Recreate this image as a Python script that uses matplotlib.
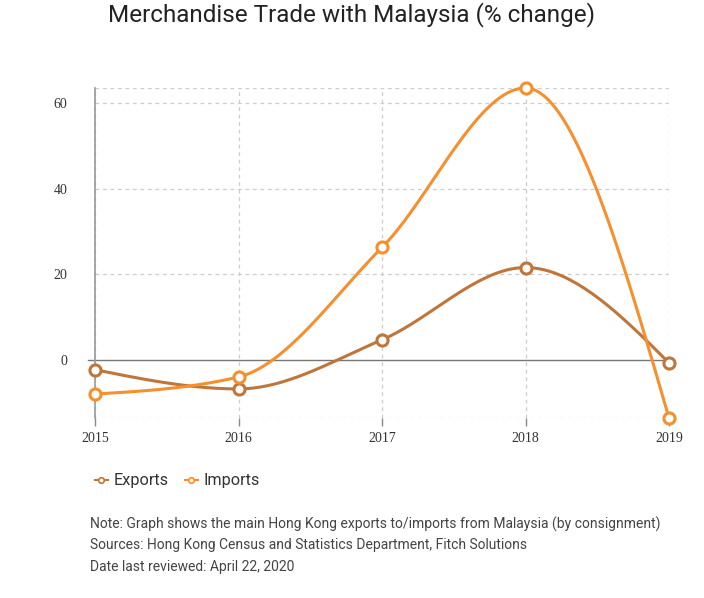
import numpy as np
import matplotlib
matplotlib.use("Agg")
import matplotlib.pyplot as plt
from matplotlib.lines import Line2D

#
# Data
#

years = [2015, 2016, 2017, 2018, 2019]
exports = [-2.3, -6.8, 4.7, 21.6, -0.7]
imports = [-8.0, -4.0, 26.3, 63.6, -13.6]
y_ticks = [0, 20, 40, 60]

title = "Merchandise Trade with Malaysia (% change)"
notes = [
    "Note: Graph shows the main Hong Kong exports to/imports from Malaysia (by consignment)",
    "Sources: Hong Kong Census and Statistics Department, Fitch Solutions",
    "Date last reviewed: April 22, 2020",
]

EXPORT_COLOR = "#c0753a"
IMPORT_COLOR = "#f68f2e"


def monotone_curve(xs, ys, steps=40):
    # d3-style monotone cubic (curveMonotoneX) for smooth lines
    xs = np.asarray(xs, float)
    ys = np.asarray(ys, float)
    n = len(xs)
    h = np.diff(xs)
    s = np.diff(ys) / h
    t = np.zeros(n)
    for i in range(1, n - 1):
        p = (s[i - 1] * h[i] + s[i] * h[i - 1]) / (h[i - 1] + h[i])
        t[i] = (np.sign(s[i - 1]) + np.sign(s[i])) * min(abs(s[i - 1]), abs(s[i]), 0.5 * abs(p))
    t[0] = (3 * s[0] - t[1]) / 2
    t[-1] = (3 * s[-1] - t[-2]) / 2
    out_x, out_y = [], []
    for i in range(n - 1):
        u = np.linspace(0, 1, steps)
        h00 = 2 * u**3 - 3 * u**2 + 1
        h10 = u**3 - 2 * u**2 + u
        h01 = -2 * u**3 + 3 * u**2
        h11 = u**3 - u**2
        yy = h00 * ys[i] + h10 * h[i] * t[i] + h01 * ys[i + 1] + h11 * h[i] * t[i + 1]
        out_x.extend(xs[i] + u * h[i])
        out_y.extend(yy)
    return np.array(out_x), np.array(out_y)


#
# Graph
#

W, H = 704, 598
fig = plt.figure(figsize=(W / 100, H / 100), dpi=100)

left, right, top, bottom = 95, 669, 88, 418
ax = fig.add_axes([left / W, 1 - bottom / H, (right - left) / W, (bottom - top) / H])

ymin = min(min(exports), min(imports))
ymax = max(max(exports), max(imports))
ax.set_xlim(years[0], years[-1])
ax.set_ylim(ymin, ymax)

for spine in ["top", "right", "bottom"]:
    ax.spines[spine].set_visible(False)
ax.spines["left"].set_color("#999999")
ax.spines["left"].set_linewidth(1.2)

grid_kw = dict(color="#cccccc", linestyle=(0, (3, 3)), linewidth=0.9, zorder=0)
for yr in years:
    ax.axvline(yr, **grid_kw)
for yv in y_ticks[1:] + [ymin, ymax]:
    ax.axhline(yv, **grid_kw)
ax.plot([years[0] - 0.05, years[-1]], [0, 0], color="#777777", linewidth=1.0, zorder=1, clip_on=False)

ax.set_xticks(years)
ax.set_yticks(y_ticks)
ax.tick_params(axis="x", length=6, width=1, color="#888888", pad=4)
ax.tick_params(axis="y", length=0, pad=20)
for lab in ax.get_xticklabels() + ax.get_yticklabels():
    lab.set_fontfamily("Liberation Serif")
    lab.set_fontsize(10)
    lab.set_color("#333333")

for vals, color in [(exports, EXPORT_COLOR), (imports, IMPORT_COLOR)]:
    cx, cy = monotone_curve(years, vals)
    ax.plot(cx, cy, color=color, linewidth=2.2, zorder=3, clip_on=False, solid_capstyle="round")
    ax.plot(years, vals, linestyle="none", marker="o", markersize=8, markerfacecolor="white",
            markeredgecolor=color, markeredgewidth=2.2, zorder=4, clip_on=False)

fig.text(352 / W, 1 - 15 / H, title, ha="center", va="center", fontsize=17.5,
         fontfamily="Roboto", color="#222222")

# Legend
handles = [
    Line2D([], [], color=EXPORT_COLOR, linewidth=1.5, marker="o", markersize=4,
           markerfacecolor="white", markeredgecolor=EXPORT_COLOR, markeredgewidth=1.2),
    Line2D([], [], color=IMPORT_COLOR, linewidth=1.5, marker="o", markersize=4,
           markerfacecolor="white", markeredgecolor=IMPORT_COLOR, markeredgewidth=1.2),
]
fig.legend(handles, ["Exports", "Imports"], loc="center left", bbox_to_anchor=(80 / W, 1 - 481 / H),
           ncol=2, frameon=False, handlelength=0.8, handletextpad=0.35, columnspacing=1.0,
           prop={"family": "Roboto", "size": 11.7}, labelcolor="#333333")

for i, line in enumerate(notes):
    fig.text(90 / W, 1 - (524 + i * 21.5) / H, line, ha="left", va="center", fontsize=10,
             fontfamily="Roboto", color="#444444")

fig.savefig("out.png", dpi=100)
